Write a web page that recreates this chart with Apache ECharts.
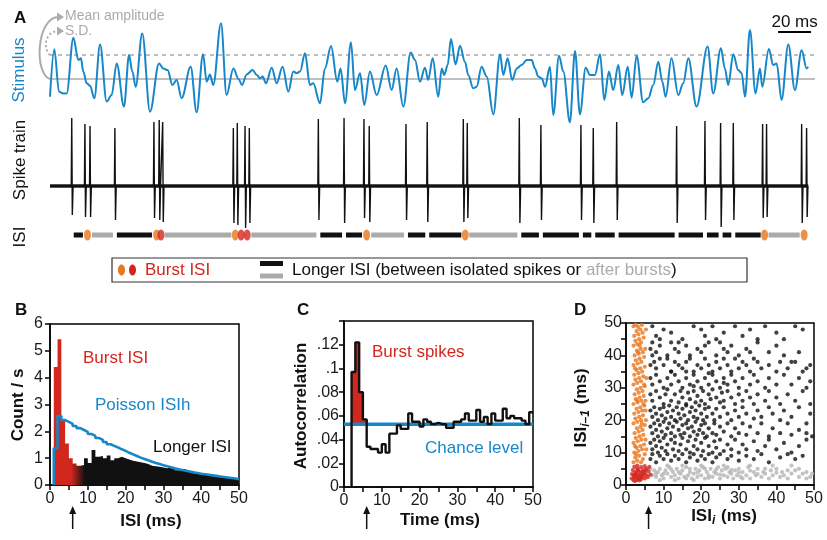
<!DOCTYPE html>
<html>
<head>
<meta charset="utf-8">
<script src="https://cdn.jsdelivr.net/npm/echarts/dist/echarts.min.js"></script>
<style>
  html, body { margin: 0; padding: 0; background: #fff; }
  #main { width: 827px; height: 540px; }
</style>
</head>
<body>
<div id="main"></div>
<script>
// ---- panel A: stimulus (time in ms, amplitude in S.D. units) ----
const stimulusMs = [0, 2.6, 5.5, 8.1, 10.1, 14.2, 17.2, 18.8, 20.2, 22.3, 24.3, 26.9, 30.4, 34.4, 37.4, 40.5,
  44.9, 48, 50, 52, 56, 60.7, 66.2, 68.8, 71.4, 74.3, 76.9, 79.9, 85.4, 89, 92.9, 95.1, 97.1, 99.1, 103.8,
  107.2, 111.3, 114.5, 116.5, 119.4, 123, 125.5, 127.5, 129.1, 131.1, 134.6, 137.6, 141.2, 144.7, 147.7,
  149.7, 151.8, 154.8, 157.8, 159.8, 163.9, 166.9, 170.6, 174.4, 176.4, 179.1, 182.7, 185.1, 188.2, 190.8,
  194.2, 198.3, 203.8, 207.4, 210.4, 214.5, 218.9, 221.6, 224.6, 227.6, 229.6, 232.3, 235.7, 237.8, 239.3,
  241.4, 243.4, 246.2, 248.9, 251.9, 253.9, 256.9, 259, 262, 265.1, 269.1, 273.2, 275.2, 277.8, 280.6,
  283.3, 286.3, 289.4, 292.4, 294.4, 296.4, 298.5, 300.5, 303.5, 305.5, 309, 311.6, 315.6, 318.7, 321.7,
  325.2, 327.8, 330.8, 333.9, 336.5, 339.3, 341.9, 345, 347.4, 350.7, 353.1, 356.1, 360.1, 363.2, 366.2,
  369.3, 371.7, 373.7, 377.3, 381.4, 384.4, 387.5, 392.5, 399.2, 402.6, 407.3, 409.7, 411.7, 414.8, 417.8,
  419.9, 421.9, 424.9, 428.3, 431, 432.4, 436.4, 439, 441.1, 444.1, 448.2, 452.2, 456.3, 459.3, 460.3];
const stimulusSD = [-0.74, 1.24, -0.53, -0.6, -0.6, 1.72, 0.79, 0.86, 0.31, -0.18, -0.28, -0.8, 1.44, -0.94, -0.67, 0.65,
  -1.15, 1.0, 0.31, -0.32, 1.9, -1.36, 0.65, 0.44, 0.37, -0.25, -0.04, -0.8, 0.51, -1.39, 1.03, -0.11, 0.19, -0.25, 2.32,
  -0.67, 0.44, 0.0, -0.25, 0.19, 0.37, 0.17, 0.03, 0.1, -0.18, 0.47, -0.18, 0.51, -0.53, 0.31,
  0.24, 0.31, 1.07, -0.25, -0.18, -1.01, 0.44, 1.37, -0.11, 0.44, -1.01, 1.53, -0.46, 0.24, -1.08,
  0.31, -0.67, 0.56, -0.46, 0.44, -1.15, 1.1, 0.79, -0.11, 0.47, -0.04, 0.86, -0.74, 0.44, 0.17,
  0.58, 1.67, 0.61, 1.39, 0.72, 0.17, -0.39, -0.32, 0.51, 0.1, -1.47, 1.03, 0.17, 0.86, -0.04,
  0.44, 0.58, 0.79, 0.79, 0.44, 0.1, 0.03, -0.32, 0.51, -1.5, 0.97, 0.31, -1.8, 1.17, -1.47,
  0.47, 0.17, 0.17, 1.03, -0.87, 0.31, -0.46, 0.58, -0.67, 0.51, -0.78, 0.97, -0.97, -0.8, -0.25,
  0.72, -0.11, -0.74, 0.86, -0.67, -0.18, 0.86, -1.15, 1.35, -0.6, 1.28, 0.44, -0.25, 1.03, 0.37,
  0.24, -0.74, 2.04, -0.6, 0.44, -0.32, 1.25, 0.58, 0.65, -0.87, 1.44, -0.46, 1.2, 0.44, 0.51];
const stimMean = 0;
const stimSDLevel = 1;
const recordEndMs = 464.4;
const scaleBarMs = [442, 462];

// ---- panel A: spike train ----
const spikeMs = [13.2, 21.2, 24.3, 39.4, 63.1, 66.3, 68.4, 111.3, 113.7, 118.4, 121, 162.9, 178.5, 190.6, 193.8, 216.1,
  229, 250.9, 253.3, 284.9, 298, 322.3, 329.8, 344, 380.4, 397.6, 407.1, 414.8, 432.6, 435, 456.3, 459.3];
const spikeUp = [68, 62, 60, 58, 64, 66, 64, 58, 63, 60, 58, 67, 68, 67, 60, 62,
  64, 67, 63, 68, 61, 61, 58, 64, 60, 65, 63, 63, 62, 62, 62, 58];
const spikeDown = [29, 31, 31, 34, 32, 34, 36, 37, 39, 42, 37, 34, 37, 32, 36, 34,
  36, 36, 32, 37, 34, 34, 37, 34, 37, 34, 41, 34, 32, 31, 37, 31];
const burstThresholdMs = 6;

// ---- panel B: ISI histogram (1 ms bins, starting at 1 ms) ----
const isiBinStart = [1, 2, 3, 4, 5, 6, 7, 8, 9, 10, 11, 12, 13, 14, 15, 16, 17, 18, 19, 20, 21, 22, 23, 24, 25,
  26, 27, 28, 29, 30, 31, 32, 33, 34, 35, 36, 37, 38, 39, 40, 41, 42, 43, 44, 45, 46, 47, 48, 49];
const isiCount = [4.4, 5.43, 2.42, 1.55, 1.0, 0.8, 0.72, 0.75, 1.0, 0.82, 1.3, 1.05, 1.08, 1.0, 1.1, 0.92, 1.0, 1.05,
  1.0, 0.95, 0.9, 0.88, 0.85, 0.82, 0.78, 0.72, 0.7, 0.68, 0.65, 0.62, 0.65, 0.68, 0.55, 0.52, 0.6, 0.5, 0.48,
  0.45, 0.42, 0.42, 0.38, 0.36, 0.35, 0.33, 0.3, 0.3, 0.28, 0.25, 0.22];
const poissonCount = [1.37, 2.57, 2.42, 2.35, 2.28, 2.2, 2.12, 2.05, 1.98, 1.9, 1.83, 1.75, 1.68, 1.6, 1.52, 1.46,
  1.4, 1.33, 1.27, 1.2, 1.14, 1.08, 1.02, 0.97, 0.92, 0.87, 0.82, 0.78, 0.74, 0.7, 0.66, 0.62, 0.59, 0.56,
  0.53, 0.5, 0.47, 0.45, 0.42, 0.4, 0.38, 0.36, 0.34, 0.32, 0.3, 0.28, 0.26, 0.24, 0.22];

// ---- panel C: autocorrelation (1 ms bins, starting at 2 ms) ----
const acBinStart = [2, 3, 4, 5, 6, 7, 8, 9, 10, 11, 12, 13, 14, 15, 16, 17, 18, 19, 20, 21, 22, 23, 24, 25, 26,
  27, 28, 29, 30, 31, 32, 33, 34, 35, 36, 37, 38, 39, 40, 41, 42, 43, 44, 45, 46, 47, 48, 49];
const acValue = [0.097, 0.122, 0.08, 0.057, 0.034, 0.032, 0.032, 0.029, 0.036, 0.029, 0.045, 0.045, 0.052, 0.049,
  0.049, 0.062, 0.055, 0.055, 0.051, 0.057, 0.055, 0.053, 0.054, 0.053, 0.053, 0.05, 0.05, 0.055, 0.055, 0.057,
  0.062, 0.056, 0.056, 0.065, 0.055, 0.059, 0.053, 0.062, 0.056, 0.056, 0.066, 0.058, 0.06, 0.058, 0.058, 0.056,
  0.053, 0.063];
const chanceLevel = 0.053;

// ---- panel D: return map ISI(i) vs ISI(i-1) ----
const longPairs = [[7,49],[8,46],[10,48],[12,47],[15,45],[18,49],[20,48],[21,46],[23,49],[25,44],[26,47],[29,49],[31,46],[33,48],[35,45],[37,49],[40,47],[42,45],[45,49],[47,48],[7,44],[9,45],[14,44],[24,45],
  [6.5,42],[8,41],[9,43],[11,40],[13,42],[14,41],[16,43],[17,40],[19,42],[20,41],[22,44],[24,40],[26,42],[27,41],[28,43],[30,40],[32,42],[33,41],[35,44],[38,41],[40,43],[42,40],[44,38],[46,41],[48,36],[7,40],[12,44],[21,43],
  [6.5,37],[7.5,38],[8,36],[10,37],[11,39],[12,35],[13,38],[15,36],[16,38],[17,39],[18,35],[19,37],[20,36],[21,39],[22,37],[23,35],[24,38],[25,36],[27,37],[28,35],[29,39],[30,36],[32,37],[33,35],[35,38],[36,36],[38,37],[40,35],[41,38],[43,36],[45,38],[47,35],[49,37],[9,39],[14,37],[26,39],[31,38],[34,39],
  [6.5,33],[7,31],[8,34],[9,32],[10,30],[11,33],[12,31],[13,34],[14,32],[15,30],[16,33],[17,31],[18,34],[19,32],[20,30],[21,33],[22,31],[23,34],[24,32],[25,30],[26,33],[27,31],[28,34],[29,32],[30,30],[31,33],[33,31],[34,34],[35,32],[37,30],[38,33],[40,31],[42,34],[44,31],[46,33],[48,30],[49,32],[12,35],[18,30.5],[22,34.5],[26,31.5],[16,35],
  [6.5,28],[7,26],[8,29],[9,27],[10,25],[10.5,28],[11,29.5],[12,26],[13,28],[14,25.5],[14.5,29],[15,27],[16,25],[16.5,28.5],[17,26.5],[18,29],[18.5,25.5],[19,27.5],[20,26],[20.5,29],[21,25],[22,28],[22.5,26.5],[23,29.5],[24,27],[25,25.5],[25.5,28.5],[26,26],[27,29],[28,27],[29,25],[30,28],[31,26],[32,29],[33,27],[34,25],[35,28],[37,26],[38,29],[40,27],[41,25],[43,28],[45,26],[47,29],[49,25],
  [6.5,23],[7,21],[7.5,24],[8,22],[8.5,20],[9,23.5],[9.5,21.5],[10,24],[10.5,20.5],[11,22.5],[11.5,24.5],[12,21],[12.5,23],[13,20],[13.5,24],[14,22],[14.5,20.5],[15,23.5],[15.5,21.5],[16,24.5],[16.5,20],[17,22.5],[17.5,24],[18,21],[18.5,23],[19,20.5],[19.5,24.5],[20,22],[20.5,20],[21,23.5],[21.5,21],[22,24],[23,22],[23.5,20],[24,23.5],[25,21],[26,24],[27,22],[28,20],[29,23],[30,21],[31,24],[32,22],[34,20.5],[35,23],[36,21],[38,24],[39,22],[41,20],[42,23],[44,21],[46,24],[48,19],[49,22],
  [6.5,18],[7,16],[7.5,19],[8,17],[8.5,15],[9,18.5],[9.5,16.5],[10,19.5],[10.5,15.5],[11,17.5],[11.5,19],[12,16],[12.5,18],[13,15],[13.5,19.5],[14,17],[14.5,15.5],[15,18.5],[15.5,16],[16,19],[16.5,17.5],[17,15],[17.5,18],[18,16.5],[18.5,19.5],[19,15.5],[19.5,17],[20,18.5],[20.5,16],[21,19],[21.5,15],[22,17.5],[23,16],[23.5,19],[24,15.5],[25,18],[26,16.5],[27,19],[28,15],[29,17.5],[30,16],[31,19],[32,15.5],[33,18],[35,16],[36,19],[38,15],[39,17.5],[41,16],[43,19],[44,15.5],[46,17],[48,16],[49.5,15],
  [6.5,13],[7,11],[7.5,14],[8,12],[8.5,10],[9,13.5],[9.5,11.5],[10,14.5],[10.5,10.5],[11,12.5],[12,14],[12.5,11],[13,13],[14,10.5],[14.5,12.5],[15,14.5],[16,11],[16.5,13.5],[17,10],[18,12],[18.5,14],[19,11],[20,13],[20.5,10.5],[21,14.5],[22,12],[23,10],[23.5,13.5],[24,11.5],[25,14],[26,10.5],[27,12.5],[28,11],[29,14],[30,10],[31,12.5],[32,11],[34,13.5],[35,10.5],[37,12],[38,14],[40,11],[42,13],[44,10],[46,12],[48,14],[45,8],[47,9],
  [6.5,8],[7,9.5],[8,7],[9,9],[10,8],[11,9.5],[12,7.5],[13,9],[14,8],[15,9.5],[16,7],[17,8.5],[18,9.5],[19,7.5],[20,9],[21,8],[22,9.5],[23,7],[24,8.5],[25,9.5],[27,8],[28,9],[30,7.5],[32,9],[34,8],[36,9.5],[38,7],[41,8.5],[43,9.5]];
const burstStartPairs = [[2,7],[2.5,8.5],[3,7.5],[3.5,9],[4,7],[4.5,8],[5,9.5],[2.2,10],[2.8,11.5],[3.3,10.5],[3.8,12],[4.3,11],[4.8,12.5],[2,13],[2.6,14.5],[3.1,13.5],[3.6,15],[4.1,14],[4.6,15.5],[5.2,14],[2.3,16],[2.9,17.5],[3.4,16.5],[3.9,18],[4.4,17],[5,18.5],[2,19],[2.5,20.5],[3,19.5],[3.5,21],[4,20],[4.5,21.5],[5.3,20],[2.2,22],[2.8,23.5],[3.3,22.5],[3.8,24],[4.3,23],[4.9,24.5],[2,25],[2.6,26.5],[3.1,25.5],[3.6,27],[4.1,26],[4.7,27.5],[5.2,26],[2.3,28],[2.9,29.5],[3.4,28.5],[3.9,30],[4.4,29],[5,30.5],[2,31],[2.5,32.5],[3,31.5],[3.5,33],[4,32],[4.6,33.5],[2.2,34],[2.8,35.5],[3.3,34.5],[3.8,36],[4.3,35],[5,36.5],[2,37],[2.6,38.5],[3.1,37.5],[3.6,39],[4.1,38],[4.8,39.5],[2.3,40],[2.9,41.5],[3.4,40.5],[3.9,42],[4.5,41],[2,43],[2.5,44.5],[3,43.5],[3.5,45],[4,44],[4.7,45.5],[2.2,46],[2.8,47.5],[3.3,46.5],[3.8,48],[4.4,47],[2,49],[2.6,49.5],[3.2,48.8],[4.2,49.4],[5.3,48],[5.1,42],[5.4,33],[5.2,23],[5.4,11],[2.4,12],[3,26],[2.4,36],[4.2,19],[3.6,43],[2.7,9.5],[4.6,25],[3.2,41],[4.8,31]];
const burstInnerPairs = [[1.5,2],[2,1.5],[2,3],[2.5,2.2],[2.5,4],[3,1.6],[3,3.2],[3,5],[3.5,2.4],[3.5,4.2],[4,1.8],[4,3.5],[4,5.5],[4.5,2.8],[4.5,4.6],[5,2],[5,3.8],[5,5.8],[5.5,3],[5.5,5],[6,4.2],[6.5,3.2],[1.8,4.6],[2.2,5.6],[2.8,2.8],[3.2,4.6],[3.8,3],[4.2,2.4],[4.8,3.4],[2.4,1.2],[3.6,1.4],[1.6,3.4],[2.6,3.6],[3.4,2],[4.4,4],[5.2,4.6],[6.2,5.6],[5.8,2.4],[2.2,2.6],[3,6]];
const afterBurstPairs = [[7,3],[7.5,4.5],[8,2.5],[8.5,4],[9,5],[9.5,3],[10,2],[10.5,4.5],[11,3.5],[11.5,5.5],[12,2.5],[12.5,4],[13,3],[13.5,5],[14,2],[14.5,3.5],[15,4.5],[15.5,2.5],[16,5.5],[16.5,3],[17,4],[17.5,2],[18,3.5],[18.5,5],[19,2.5],[19.5,4.5],[20,3],[20.5,5.5],[21,2],[21.5,4],[22,3],[22.5,5],[23,2.5],[23.5,4],[24,3.5],[24.5,5.5],[25,2],[25.5,4.5],[26,3],[26.5,5],[27,2.5],[27.5,4],[28,3.5],[28.5,2],[29,4.5],[29.5,3],[30,5],[30.5,2.5],[31,4],[32,3],[32.5,5.5],[33,2],[34,4],[34.5,3],[35,5],[36,2.5],[36.5,4],[37,3.5],[38,2],[38.5,4.5],[39,3],[40,5],[41,2.5],[41.5,4],[42,3],[43,2],[44,3.5],[45,4.5],[46,2.5],[47,3.5],[48,4],[49,2.5],[49.5,3.5],[6.5,5],[9,1.5],[13,1.5],[18,1.5],[11,6],[15,6],[20,6],[26,6],[33,6],[39,6],[44,6],[8,3.5],[10,3.5],[12,4.8],[14,4],[16,2],[17,5],[19,3.8],[21,5],[22,2.2],[24,4.8],[25,3.2],[27,5.5],[28,4.6],[30,3.8],[31,2],[33,4.4],[35,3.4],[37,5],[40,3.8],[43,4.5],[46,5],[48,2]];

// ---- styles ----
const FONT = '"Liberation Sans", Arial, Helvetica, sans-serif';
const RED = '#d3271e', ORANGE = '#e8761b', BLUE = '#1787c9', GRAY = '#ababab', INK = '#111';
const ISI_ROW = -49;   // y of the ISI marker row inside the spike grid
const GAP = 1.2;       // ms left blank either side of a spike in the ISI row

// spike trace built from spike times/amplitudes
let spikeTrace = [[0, 0]];
spikeMs.forEach((t, i) => {
  spikeTrace.push([t - 0.3, 0], [t, spikeUp[i]], [t + 0.35, -spikeDown[i]], [t + 0.8, 0]);
});
spikeTrace.push([460.3, 0]);

// ISI classes from the spike train
let isiSegs = [], burstFirst = [], burstNext = [];
let prevBurst = false;
for (let i = 0; i < spikeMs.length - 1; i++) {
  const a = spikeMs[i], b = spikeMs[i + 1], isi = b - a;
  if (isi < burstThresholdMs) {
    (prevBurst ? burstNext : burstFirst).push([(a + b) / 2, ISI_ROW]);
    prevBurst = true;
  } else {
    isiSegs.push([a + GAP, b - GAP, ISI_ROW, prevBurst ? 1 : 0]);
    prevBurst = false;
  }
}

const stimData = stimulusMs.map((t, i) => [t, stimulusSD[i]]);
const lastBin = isiBinStart.length - 1;
let isiArea = isiBinStart.map((s, i) => [s, isiCount[i]]);
isiArea.push([50, isiCount[lastBin]]);
let poissonLine = [[isiBinStart[0], 0]];
isiBinStart.forEach((s, i) => poissonLine.push([s, poissonCount[i]]));
poissonLine.push([50, poissonCount[lastBin]]);
let acLine = [[acBinStart[0], 0]];
acBinStart.forEach((s, i) => acLine.push([s, acValue[i]]));
acLine.push([50, acValue[acValue.length - 1]]);
const acFill = acBinStart.map((s, i) => [s, s + 1, acValue[i]])
  .filter(d => d[0] < burstThresholdMs && d[2] > chanceLevel);

// red-to-black fade of the ISI histogram between ~5.6 and ~9.2 ms
const span = 50 - isiBinStart[0];
const fadeA = (5.6 - isiBinStart[0]) / span, fadeB = (9.2 - isiBinStart[0]) / span;

const chart = echarts.init(document.getElementById('main'));

const tenFmt = v => (Math.round(v) % 10 === 0 ? String(Math.round(v)) : '');
function panelAxis(grid, min, max, interval, fmt, margin) {
  return {
    gridIndex: grid, type: 'value', min, max, interval,
    axisLine: { show: true, onZero: false, lineStyle: { color: '#000', width: 1.5 } },
    axisTick: { show: true, inside: false, length: 5, lineStyle: { color: '#000', width: 1.5 } },
    axisLabel: { show: true, color: '#1a1a1a', fontSize: 16, fontFamily: FONT, margin, formatter: fmt,
      showMinLabel: true, showMaxLabel: true },
    splitLine: { show: false }
  };
}
const frame = { show: true, borderColor: '#000', borderWidth: 1.5, backgroundColor: 'transparent' };

const option = {
  animation: false,
  backgroundColor: '#fff',
  grid: [
    { left: 50, top: 19, width: 765, height: 108 },
    { left: 50, top: 114, width: 765, height: 126 },
    Object.assign({ left: 50, top: 324, width: 189, height: 161 }, frame),
    Object.assign({ left: 344, top: 321, width: 189, height: 166 }, frame),
    Object.assign({ left: 626, top: 323, width: 188, height: 162 }, frame)
  ],
  xAxis: [
    { gridIndex: 0, type: 'value', min: 0, max: recordEndMs, show: false },
    { gridIndex: 1, type: 'value', min: 0, max: recordEndMs, show: false },
    panelAxis(2, 0, 50, 5, tenFmt, 6),
    panelAxis(3, 0, 50, 5, tenFmt, 6),
    panelAxis(4, 0, 50, 5, tenFmt, 6)
  ],
  yAxis: [
    { gridIndex: 0, type: 'value', min: -2, max: 2.5, show: false },
    { gridIndex: 1, type: 'value', min: -54, max: 72, show: false },
    panelAxis(2, 0, 6, 1, v => String(v), 7),
    panelAxis(3, 0, 0.14, 0.02, v => {
      if (v > 0.135) return '';
      if (v === 0) return '0';
      return String(parseFloat(v.toFixed(2))).replace(/^0/, '');
    }, 5),
    panelAxis(4, 0, 50, 5, tenFmt, 4)
  ],
  series: [
    { type: 'line', xAxisIndex: 0, yAxisIndex: 0, symbol: 'none', silent: true,
      data: [[0, stimMean], [recordEndMs, stimMean]], lineStyle: { color: GRAY, width: 1.6 } },
    { type: 'line', xAxisIndex: 0, yAxisIndex: 0, symbol: 'none', silent: true,
      data: [[0, stimSDLevel], [recordEndMs, stimSDLevel]], lineStyle: { color: GRAY, width: 1.6, type: [4, 4] } },
    { type: 'line', xAxisIndex: 0, yAxisIndex: 0, symbol: 'none', smooth: 0.35, smoothMonotone: 'x', clip: false,
      data: stimData, lineStyle: { color: BLUE, width: 2 } },
    { type: 'line', xAxisIndex: 0, yAxisIndex: 0, symbol: 'none', clip: false,
      data: scaleBarMs.map(t => [t, 1.96]), lineStyle: { color: '#000', width: 2 } },
    // spike train
    { type: 'line', xAxisIndex: 1, yAxisIndex: 1, symbol: 'none',
      data: [[0, 0], [460.3, 0]], lineStyle: { color: '#1a1a1a', width: 3.5 } },
    { type: 'line', xAxisIndex: 1, yAxisIndex: 1, symbol: 'none',
      data: spikeTrace, lineStyle: { color: INK, width: 1.4 } },
    { type: 'custom', xAxisIndex: 1, yAxisIndex: 1, data: isiSegs,
      renderItem: (params, api) => {
        const a = api.coord([api.value(0), api.value(2)]);
        const b = api.coord([api.value(1), api.value(2)]);
        return { type: 'rect', shape: { x: a[0], y: a[1] - 2.5, width: b[0] - a[0], height: 5 },
          style: { fill: api.value(3) === 1 ? GRAY : INK } };
      } },
    { type: 'scatter', xAxisIndex: 1, yAxisIndex: 1, symbol: 'circle', symbolSize: [7, 11],
      data: burstFirst, itemStyle: { color: ORANGE } },
    { type: 'scatter', xAxisIndex: 1, yAxisIndex: 1, symbol: 'circle', symbolSize: [7, 11],
      data: burstNext, itemStyle: { color: RED } },
    // panel B
    { type: 'line', xAxisIndex: 2, yAxisIndex: 2, symbol: 'none', step: 'end',
      data: isiArea, lineStyle: { width: 0 },
      areaStyle: { opacity: 1, color: new echarts.graphic.LinearGradient(0, 0, 1, 0, [
        { offset: 0, color: RED }, { offset: fadeA, color: RED },
        { offset: fadeB, color: INK }, { offset: 1, color: INK }]) } },
    { type: 'line', xAxisIndex: 2, yAxisIndex: 2, symbol: 'none', step: 'end', z: 5,
      data: poissonLine, lineStyle: { color: BLUE, width: 2.6 } },
    // panel C
    { type: 'custom', xAxisIndex: 3, yAxisIndex: 3, data: acFill,
      renderItem: (params, api) => {
        const p0 = api.coord([api.value(0), chanceLevel]);
        const p1 = api.coord([api.value(1), api.value(2)]);
        return { type: 'rect', shape: { x: p0[0], y: p1[1], width: p1[0] - p0[0] + 1, height: p0[1] - p1[1] },
          style: { fill: RED } };
      } },
    { type: 'line', xAxisIndex: 3, yAxisIndex: 3, symbol: 'none',
      data: [[0, chanceLevel], [50, chanceLevel]], lineStyle: { color: BLUE, width: 3.5 } },
    { type: 'line', xAxisIndex: 3, yAxisIndex: 3, symbol: 'none', step: 'end', z: 5,
      data: acLine, lineStyle: { color: INK, width: 2.4 } },
    // panel D
    { type: 'scatter', xAxisIndex: 4, yAxisIndex: 4, symbolSize: 4.2, data: afterBurstPairs, itemStyle: { color: '#b4b4b4' } },
    { type: 'scatter', xAxisIndex: 4, yAxisIndex: 4, symbolSize: 4.2, data: longPairs, itemStyle: { color: INK } },
    { type: 'scatter', xAxisIndex: 4, yAxisIndex: 4, symbolSize: 4.2, data: burstStartPairs, itemStyle: { color: ORANGE } },
    { type: 'scatter', xAxisIndex: 4, yAxisIndex: 4, symbolSize: 4.2, data: burstInnerPairs, itemStyle: { color: RED } }
  ]
};
chart.setOption(option);

// ---- text and decorations ----
function txt(x, y, text, o) {
  o = o || {};
  return { type: 'text', x, y, rotation: o.rot || 0, z: 100,
    style: { text, fill: o.color || INK, font: (o.weight || 'normal') + ' ' + (o.size || 17) + 'px ' + FONT,
      align: o.align || 'left', verticalAlign: 'middle', rich: o.rich } };
}
const R90 = Math.PI / 2;
const g = [
  txt(14, 18, 'A', { weight: 'bold' }),
  txt(19, 70, 'Stimulus', { rot: R90, align: 'center', color: BLUE }),
  txt(20, 160, 'Spike train', { rot: R90, align: 'center' }),
  txt(20, 237, 'ISI', { rot: R90, align: 'center' }),
  txt(65, 16, 'Mean amplitude', { size: 14, color: GRAY }),
  txt(65, 31, 'S.D.', { size: 14, color: GRAY }),
  { type: 'bezierCurve', z: 100, shape: { x1: 50, y1: 79, cpx1: 34, cpy1: 74, cpx2: 36, cpy2: 17, x2: 59, y2: 17 },
    style: { stroke: GRAY, lineWidth: 2, fill: null } },
  { type: 'polygon', z: 100, shape: { points: [[57, 12.5], [64, 17], [57, 21.5]] }, style: { fill: GRAY } },
  { type: 'bezierCurve', z: 100, shape: { x1: 50, y1: 55, cpx1: 43, cpy1: 49, cpx2: 44, cpy2: 31, x2: 59, y2: 31 },
    style: { stroke: GRAY, lineWidth: 2, fill: null, lineDash: [2, 2.5] } },
  { type: 'polygon', z: 100, shape: { points: [[57, 26.5], [64, 31], [57, 35.5]] }, style: { fill: GRAY } },
  // legend box
  { type: 'rect', z: 100, shape: { x: 112, y: 258, width: 635, height: 24 },
    style: { stroke: '#333', lineWidth: 1.2, fill: null } },
  { type: 'ellipse', z: 100, shape: { cx: 121.5, cy: 270, rx: 3.5, ry: 5.5 }, style: { fill: ORANGE } },
  { type: 'ellipse', z: 100, shape: { cx: 132.5, cy: 270, rx: 3.5, ry: 5.5 }, style: { fill: RED } },
  txt(145, 270, 'Burst ISI', { color: RED }),
  { type: 'rect', z: 100, shape: { x: 260, y: 261, width: 23, height: 5 }, style: { fill: INK } },
  { type: 'rect', z: 100, shape: { x: 260, y: 273.5, width: 23, height: 5 }, style: { fill: GRAY } },
  txt(292, 270, '{k|Longer ISI (between isolated spikes or }{g|after bursts}{k|)}', {
    rich: { k: { fill: INK, font: '17px ' + FONT }, g: { fill: GRAY, font: '17px ' + FONT } } }),
  // panel letters
  txt(15, 310, 'B', { weight: 'bold' }),
  txt(297, 310, 'C', { weight: 'bold' }),
  txt(574, 310, 'D', { weight: 'bold' }),
  // panel annotations
  txt(83, 358, 'Burst ISI', { color: RED }),
  txt(95, 405, 'Poisson ISIh', { color: BLUE }),
  txt(153, 447, 'Longer ISI'),
  txt(372, 352, 'Burst spikes', { color: RED }),
  txt(425, 448, 'Chance level', { color: BLUE }),
  // axis names
  txt(18, 405, 'Count / s', { rot: R90, align: 'center', weight: 'bold' }),
  txt(151, 521, 'ISI (ms)', { align: 'center', weight: 'bold' }),
  txt(301, 406, 'Autocorrelation', { rot: R90, align: 'center', weight: 'bold' }),
  txt(440, 520, 'Time (ms)', { align: 'center', weight: 'bold' }),
  txt(581, 408, '{b|ISI}{s|i–1}{b| (ms)}', { rot: R90, align: 'center',
    rich: { b: { font: 'bold 17px ' + FONT, fill: INK },
            s: { font: 'italic bold 12px ' + FONT, fill: INK, padding: [9, 1, 0, 0] } } }),
  txt(724, 516, '{b|ISI}{s|i}{b| (ms)}', { align: 'center',
    rich: { b: { font: 'bold 17px ' + FONT, fill: INK },
            s: { font: 'italic bold 12px ' + FONT, fill: INK, padding: [9, 1, 0, 0] } } })
];

// threshold arrows below panels B, C, D
[2, 3, 4].forEach(ax => {
  const x = chart.convertToPixel({ xAxisIndex: ax }, burstThresholdMs);
  g.push({ type: 'line', z: 100, shape: { x1: x, y1: 529, x2: x, y2: 512 }, style: { stroke: INK, lineWidth: 1.5 } });
  g.push({ type: 'polygon', z: 100, shape: { points: [[x - 3.5, 514], [x, 506], [x + 3.5, 514]] }, style: { fill: INK } });
});
// scale bar label
const sb0 = chart.convertToPixel({ xAxisIndex: 0, yAxisIndex: 0 }, [scaleBarMs[0], 1.96]);
const sb1 = chart.convertToPixel({ xAxisIndex: 0, yAxisIndex: 0 }, [scaleBarMs[1], 1.96]);
g.push(txt((sb0[0] + sb1[0]) / 2, sb0[1] - 10, (scaleBarMs[1] - scaleBarMs[0]) + ' ms', { align: 'center' }));

chart.setOption({ graphic: g });
</script>
</body>
</html>
